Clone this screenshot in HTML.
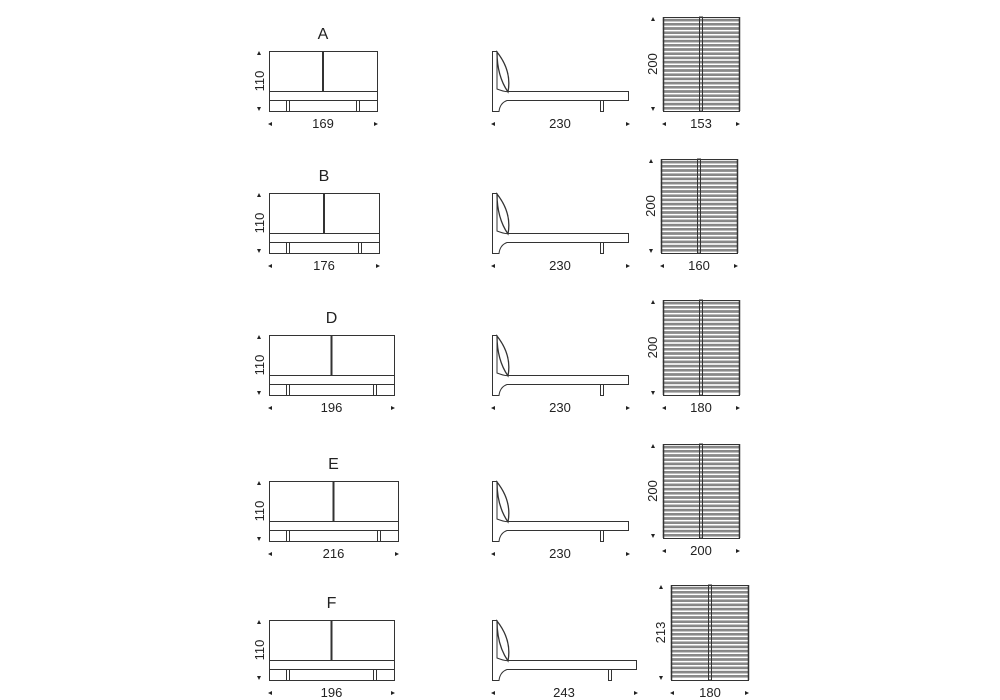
<!DOCTYPE html>
<html><head><meta charset="utf-8"><style>
html,body{margin:0;padding:0;background:#fff;width:1000px;height:700px;overflow:hidden}
svg text{font-family:"Liberation Sans",sans-serif;fill:#222}
</style></head><body>
<svg id="s" width="1000" height="700" xmlns="http://www.w3.org/2000/svg"></svg>
<script>
var s=document.getElementById('s'),h='';
var rows=[
 {n:'A',L:33,R:377,w:'169',sx0:663,sx1:739,sy0:17,sy1:111,sw:'153',sl:'200',side:628,sd:'230'},
 {n:'B',L:175,R:379,w:'176',sx0:661,sx1:737,sy0:159,sy1:253,sw:'160',sl:'200',side:628,sd:'230'},
 {n:'D',L:317,R:394,w:'196',sx0:663,sx1:739,sy0:300,sy1:395,sw:'180',sl:'200',side:628,sd:'230'},
 {n:'E',L:463,R:398,w:'216',sx0:663,sx1:739,sy0:444,sy1:538,sw:'200',sl:'200',side:628,sd:'230'},
 {n:'F',L:602,R:394,w:'196',sx0:671,sx1:748,sy0:585,sy1:680,sw:'180',sl:'213',side:636,sd:'243'}
];
function tri(x,y,d){var p;
 if(d=='u')p=[x-2,y+2,x+2,y+2,x,y-2];if(d=='d')p=[x-2,y-2,x+2,y-2,x,y+2];
 if(d=='l')p=[x+2,y-2,x+2,y+2,x-2,y];if(d=='r')p=[x-2,y-2,x-2,y+2,x+2,y];
 return '<polygon points="'+p.join(',')+'" fill="#222"/>';}
rows.forEach(function(r){
 var T=r.L+18,B=T+60,x0=269,R=r.R,m=(x0+R)/2;
 h+='<text x="'+m+'" y="'+(r.L+6)+'" font-size="16" text-anchor="middle">'+r.n+'</text>';
 h+='<g fill="none" stroke="#333" stroke-width="1">';
 h+='<rect x="'+x0+'.5" y="'+T+'.5" width="'+(R-x0)+'" height="60"/>';
 h+='<line x1="'+x0+'" y1="'+(T+40.5)+'" x2="'+R+'" y2="'+(T+40.5)+'"/>';
 h+='<line x1="'+x0+'" y1="'+(T+49.5)+'" x2="'+R+'" y2="'+(T+49.5)+'"/>';
 h+='</g>';
 h+='<rect x="'+(m-1)+'" y="'+T+'" width="2" height="40" fill="#333"/>';
 var l1=x0+17,l2=R-21;
 [l1,l2].forEach(function(lx){h+='<rect x="'+lx+'.5" y="'+(T+49.5)+'" width="3" height="11" fill="none" stroke="#333"/>';});
 h+=tri(259,T+2,'u')+tri(259,B-2,'d');
 h+='<text transform="translate(264,'+(T+30)+') rotate(-90)" font-size="13" text-anchor="middle">110</text>';
 h+=tri(270,B+13,'l')+tri(R-1,B+13,'r');
 h+='<text x="'+m+'" y="'+(B+17)+'" font-size="13" text-anchor="middle">'+r.w+'</text>';
 var S=r.side;
 h+='<g fill="none" stroke="#333" stroke-width="1">';
 h+='<path d="M492.5 '+(B+0.5)+' L492.5 '+T+'.5 L497 '+T+'.5 L497 '+(T+38)+' Q505 '+(T+41)+' 507 '+(T+40.5)+' L'+S+'.5 '+(T+40.5)+' L'+S+'.5 '+(T+49.5)+' L507 '+(T+49.5)+' Q500 '+(T+52)+' 499 '+(B+0.5)+' Z"/>';
 h+='<path d="M497 '+(T+1)+' Q512 '+(T+20)+' 508 '+(T+41)+' Q497 '+(T+25)+' 497 '+(T+1)+' Z" stroke-width="1.3"/>';
 h+='<rect x="'+(S-28)+'.5" y="'+(T+49.5)+'" width="3" height="11"/>';
 h+='</g>';
 h+=tri(493,B+13,'l')+tri(S,B+13,'r');
 h+='<text x="'+((492+S)/2)+'" y="'+(B+17)+'" font-size="13" text-anchor="middle">'+r.sd+'</text>';
 var a=r.sx0,b=r.sx1,y0=r.sy0,y1=r.sy1,c=Math.round((a+b)/2);
 for(var y=y0+2;y<y1-2;y+=4.2){h+='<rect x="'+a+'" y="'+y.toFixed(1)+'" width="'+(b-a)+'" height="2.2" fill="#8a8a8a" stroke="#666" stroke-width="0.3"/>';}
 h+='<g stroke="#333" fill="none"><rect x="'+a+'.5" y="'+y0+'.5" width="'+(b-a)+'" height="'+(y1-y0)+'" stroke-width="1"/>';
 h+='<line x1="'+a+'.5" y1="'+y0+'" x2="'+a+'.5" y2="'+y1+'" stroke-width="1.5"/><line x1="'+b+'.5" y1="'+y0+'" x2="'+b+'.5" y2="'+y1+'" stroke-width="1.5"/>';
 h+='<rect x="'+(c-1.5)+'" y="'+y0+'" width="3" height="'+(y1-y0)+'" stroke-width="1"/></g>';
 h+=tri(a-10,y0+2,'u')+tri(a-10,y1-2,'d');
 h+='<text transform="translate('+(a-6)+','+((y0+y1)/2)+') rotate(-90)" font-size="13" text-anchor="middle">'+r.sl+'</text>';
 h+=tri(a+1,y1+13,'l')+tri(b-1,y1+13,'r');
 h+='<text x="'+c+'" y="'+(y1+17)+'" font-size="13" text-anchor="middle">'+r.sw+'</text>';
});
s.innerHTML=h;
</script>
</body></html>
